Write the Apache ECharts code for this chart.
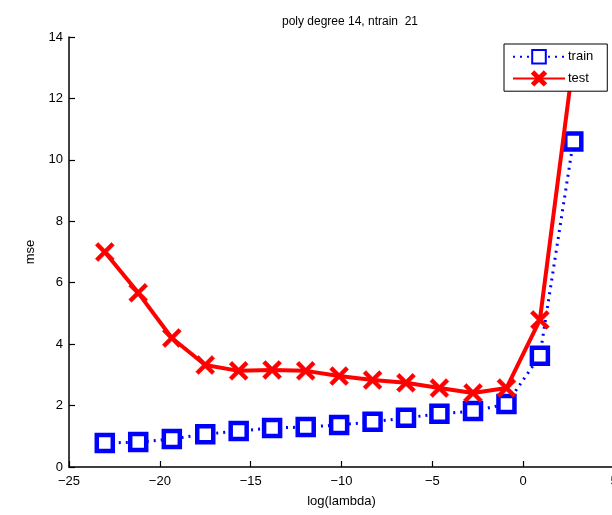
<!DOCTYPE html>
<html>
<head>
<meta charset="utf-8">
<script src="https://cdn.jsdelivr.net/npm/echarts@6/dist/echarts.min.js"></script>
<style>html,body{margin:0;padding:0;background:#fff;}#c{width:612px;height:515px;}</style>
</head>
<body>
<div id="c"></div>
<script>
const logLambda = [-23.03, -21.19, -19.34, -17.50, -15.66, -13.82, -11.97, -10.13, -8.29, -6.45, -4.61, -2.76, -0.92, 0.92, 2.76];
const trainMse = [0.78, 0.81, 0.91, 1.07, 1.17, 1.27, 1.30, 1.37, 1.47, 1.60, 1.73, 1.82, 2.05, 3.62, 10.6];
const testMse = [7.0, 5.67, 4.2, 3.32, 3.13, 3.16, 3.13, 2.96, 2.83, 2.74, 2.57, 2.41, 2.57, 4.79, 13.2];
const xTicks = [-25, -20, -15, -10, -5, 0, 5];
const yTicks = [0, 2, 4, 6, 8, 10, 12, 14];

const font = 'Liberation Sans, Arial, sans-serif';
const xPath = 'path://M0,3 L3,0 L10,7 L17,0 L20,3 L13,10 L20,17 L17,20 L10,13 L3,20 L0,17 L7,10 Z';

const chart = echarts.init(document.getElementById('c'), null, {renderer: 'canvas'});
chart.setOption({
  animation: false,
  backgroundColor: '#fff',
  title: {
    text: 'poly degree 14, ntrain  21',
    left: 345, top: 11, textAlign: 'center',
    textStyle: {fontFamily: font, fontSize: 12, fontWeight: 'normal', color: '#000'}
  },
  legend: {
    left: 504, top: 44, orient: 'vertical',
    backgroundColor: '#fff',
    borderColor: '#000', borderWidth: 1, borderRadius: 0,
    padding: [5, 14, 5, 8],
    itemWidth: 52, itemHeight: 17, itemGap: 6,
    textStyle: {fontFamily: font, fontSize: 13, color: '#000', padding: [0, 0, 0, -2]},
    data: ['train', 'test']
  },
  grid: {left: 69, top: 37, width: 545, height: 430, containLabel: false, outerBoundsMode: 'none'},
  xAxis: {
    type: 'value', min: -25, max: 5, interval: 5,
    name: 'log(lambda)', nameLocation: 'middle', nameGap: 28,
    nameTextStyle: {fontFamily: font, fontSize: 13, color: '#000'},
    axisLine: {show: true, onZero: false, lineStyle: {color: '#000', width: 1.5}},
    axisTick: {show: true, inside: true, length: 6, lineStyle: {color: '#000', width: 1.2}},
    axisLabel: {fontFamily: font, fontSize: 13, color: '#000', margin: 8, hideOverlap: false,
      formatter: v => xTicks.includes(v) ? String(v).replace('-', '\u2212') : ''},
    splitLine: {show: false}
  },
  yAxis: {
    type: 'value', min: 0, max: 14, interval: 2,
    name: 'mse', nameLocation: 'middle', nameGap: 32, nameRotate: 90,
    nameTextStyle: {fontFamily: font, fontSize: 13, color: '#000'},
    axisLine: {show: true, onZero: false, lineStyle: {color: '#000', width: 1.5}},
    axisTick: {show: true, inside: true, length: 6, lineStyle: {color: '#000', width: 1.2}},
    axisLabel: {fontFamily: font, fontSize: 13, color: '#000', margin: 6,
      formatter: v => yTicks.includes(v) ? String(v) : ''},
    splitLine: {show: false}
  },
  series: [
    {
      name: 'train', type: 'line',
      data: logLambda.map((x, i) => [x, trainMse[i]]),
      symbol: 'rect', symbolSize: 16,
      lineStyle: {color: '#0000ff', width: 3, type: [2, 5]},
      itemStyle: {color: '#fff', borderColor: '#0000ff', borderWidth: 4.5},
      z: 2
    },
    {
      name: 'test', type: 'line',
      data: logLambda.map((x, i) => [x, testMse[i]]),
      symbol: xPath, symbolSize: 19,
      lineStyle: {color: '#ff0000', width: 4},
      itemStyle: {color: '#ff0000', borderColor: '#ff0000', borderWidth: 0.5},
      z: 3
    }
  ]
});
</script>
</body>
</html>
